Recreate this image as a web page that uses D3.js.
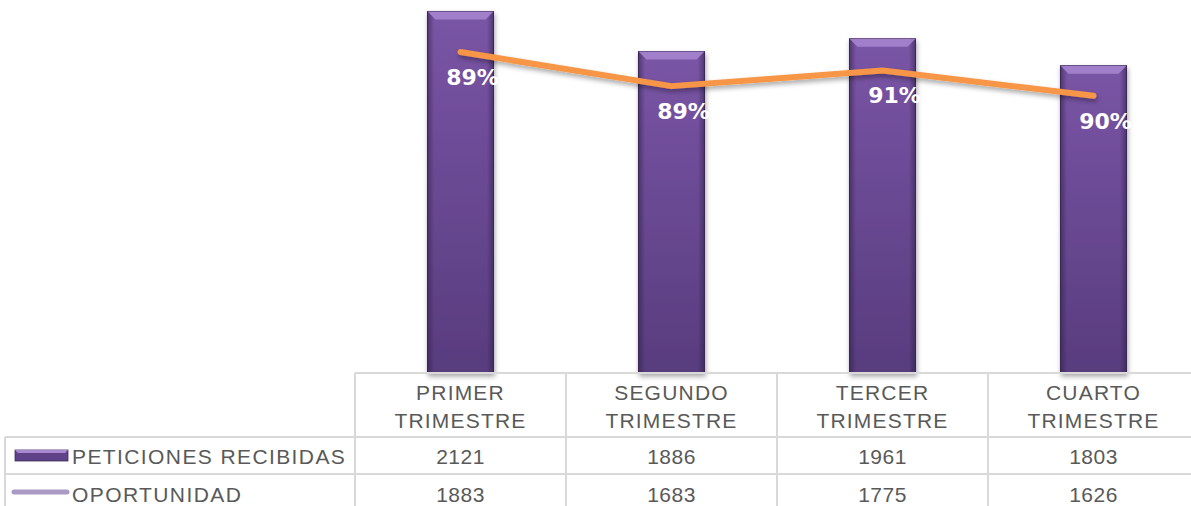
<!DOCTYPE html>
<html>
<head>
<meta charset="utf-8">
<script src="https://cdn.jsdelivr.net/npm/d3@7"></script>
<style>
  body { margin: 0; background: #fff; }
  svg text { font-family: "Liberation Sans", Arial, sans-serif; }
</style>
</head>
<body>
<div id="chart"></div>
<script>
// data
const categories = ["PRIMER TRIMESTRE", "SEGUNDO TRIMESTRE", "TERCER TRIMESTRE", "CUARTO TRIMESTRE"];
const peticiones = [2121, 1886, 1961, 1803];
const oportunidad = [1883, 1683, 1775, 1626];
const pctLabels = ["89%", "89%", "91%", "90%"];
const seriesNames = ["PETICIONES RECIBIDAS", "OPORTUNIDAD"];

const W = 1191, H = 506;
const tableTop = 373, headerBottom = 437, row1Bottom = 474;
const legendLeft = 5, plotLeft = 355;

const svg = d3.select("#chart").append("svg")
  .attr("width", W).attr("height", H);

const defs = svg.append("defs");
const barGrad = defs.append("linearGradient").attr("id", "barGrad")
  .attr("x1", 0).attr("y1", 0).attr("x2", 0).attr("y2", 1);
barGrad.append("stop").attr("offset", "0%").attr("stop-color", "#7a55a6");
barGrad.append("stop").attr("offset", "100%").attr("stop-color", "#583c7e");
const edgeGrad = defs.append("linearGradient").attr("id", "edgeGrad")
  .attr("x1", 0).attr("y1", 0).attr("x2", 1).attr("y2", 0);
edgeGrad.append("stop").attr("offset", "0%").attr("stop-color", "#2e1f45").attr("stop-opacity", 0.55);
edgeGrad.append("stop").attr("offset", "10%").attr("stop-color", "#2e1f45").attr("stop-opacity", 0);
edgeGrad.append("stop").attr("offset", "90%").attr("stop-color", "#2e1f45").attr("stop-opacity", 0);
edgeGrad.append("stop").attr("offset", "100%").attr("stop-color", "#2e1f45").attr("stop-opacity", 0.55);
const shadow = defs.append("filter").attr("id", "shadow")
  .attr("x", "-20%").attr("y", "-20%").attr("width", "140%").attr("height", "160%");
shadow.append("feDropShadow").attr("dx", 1).attr("dy", 3).attr("stdDeviation", 2.5)
  .attr("flood-color", "#000").attr("flood-opacity", 0.35);

// scales
const x = d3.scaleBand().domain(categories).range([plotLeft, 1199]).padding(0);
const y = d3.scaleLinear().domain([0, 2200]).range([tableTop, -2]);
const barW = x.bandwidth() * 0.313;

// bars
const bars = svg.append("g").selectAll("g.bar")
  .data(categories).join("g").attr("class", "bar");
bars.append("rect")
  .attr("x", d => x(d) + x.bandwidth() / 2 - barW / 2)
  .attr("y", (d, i) => y(peticiones[i]))
  .attr("width", barW)
  .attr("height", (d, i) => y(0) - y(peticiones[i]))
  .attr("fill", "url(#barGrad)")
  .attr("stroke", "#3f2b5c").attr("stroke-width", 1)
  .attr("filter", "url(#shadow)");
bars.append("rect")
  .attr("x", d => x(d) + x.bandwidth() / 2 - barW / 2)
  .attr("y", (d, i) => y(peticiones[i]))
  .attr("width", barW)
  .attr("height", (d, i) => y(0) - y(peticiones[i]))
  .attr("fill", "url(#edgeGrad)");
// top bevel
bars.append("path")
  .attr("d", (d, i) => {
    const x0 = x(d) + x.bandwidth() / 2 - barW / 2, x1 = x0 + barW, t = y(peticiones[i]);
    return `M${x0},${t} L${x1},${t} L${x1 - 8},${t + 8} L${x0 + 8},${t + 8} Z`;
  })
  .attr("fill", "#a987d1").attr("opacity", 0.85);

// line
const line = d3.line()
  .x((d, i) => x(categories[i]) + x.bandwidth() / 2)
  .y(d => y(d));
svg.append("path")
  .datum(oportunidad)
  .attr("d", line)
  .attr("fill", "none")
  .attr("stroke", "#f79646")
  .attr("stroke-width", 6)
  .attr("stroke-linecap", "round")
  .attr("stroke-linejoin", "round")
  .attr("filter", "url(#shadow)");

// percentage labels
svg.append("g").selectAll("text")
  .data(pctLabels).join("text")
  .attr("x", (d, i) => x(categories[i]) + x.bandwidth() / 2 + 12)
  .attr("y", (d, i) => y(oportunidad[i]) + 27)
  .attr("text-anchor", "middle")
  .attr("dominant-baseline", "middle")
  .attr("fill", "#fff")
  .attr("font-weight", "bold")
  .attr("font-size", 22)
  .style("font-family", "'DejaVu Sans', sans-serif")
  .text(d => d);

// data table
const grid = svg.append("g").attr("stroke", "#d9d9d9").attr("stroke-width", 2);
grid.append("line").attr("x1", plotLeft).attr("x2", W).attr("y1", tableTop).attr("y2", tableTop);
grid.append("line").attr("x1", legendLeft).attr("x2", W).attr("y1", headerBottom).attr("y2", headerBottom);
grid.append("line").attr("x1", legendLeft).attr("x2", W).attr("y1", row1Bottom).attr("y2", row1Bottom);
grid.append("line").attr("x1", legendLeft).attr("x2", legendLeft).attr("y1", headerBottom).attr("y2", H);
grid.selectAll("line.col")
  .data(categories).join("line").attr("class", "col")
  .attr("x1", d => x(d)).attr("x2", d => x(d))
  .attr("y1", tableTop).attr("y2", H);

const txtColor = "#595959";
// header
const head = svg.append("g").selectAll("text")
  .data(categories).join("text")
  .attr("text-anchor", "middle")
  .attr("fill", txtColor)
  .attr("font-size", 21)
  .attr("letter-spacing", 1.2);
head.each(function(d) {
  const words = d.split(" ");
  const t = d3.select(this);
  words.forEach((w, k) => {
    t.append("tspan")
      .attr("x", x(d) + x.bandwidth() / 2)
      .attr("y", 400 + k * 28)
      .text(w);
  });
});

// values
[peticiones, oportunidad].forEach((vals, r) => {
  svg.append("g").selectAll("text")
    .data(vals).join("text")
    .attr("x", (d, i) => x(categories[i]) + x.bandwidth() / 2)
    .attr("y", r === 0 ? 464 : 502)
    .attr("text-anchor", "middle")
    .attr("fill", txtColor)
    .attr("font-size", 21)
    .attr("letter-spacing", 0.5)
    .text(d => d);
});

// legend cells
svg.append("rect").attr("x", 15).attr("y", 450).attr("width", 53).attr("height", 11)
  .attr("fill", "#5f4288").attr("stroke", "#3f2b5c").attr("stroke-width", 0.8);
svg.append("path").attr("d", "M15,450 L68,450 L65,453 L18,453 Z").attr("fill", "#a987d1");
svg.append("line").attr("x1", 14).attr("x2", 67).attr("y1", 492).attr("y2", 492)
  .attr("stroke", "#a99bc5").attr("stroke-width", 5).attr("stroke-linecap", "round");
svg.append("g").selectAll("text")
  .data(seriesNames).join("text")
  .attr("x", 72)
  .attr("y", (d, i) => i === 0 ? 464 : 502)
  .attr("fill", txtColor)
  .attr("font-size", 21)
  .attr("letter-spacing", 1.4)
  .text(d => d);
</script>
</body>
</html>
